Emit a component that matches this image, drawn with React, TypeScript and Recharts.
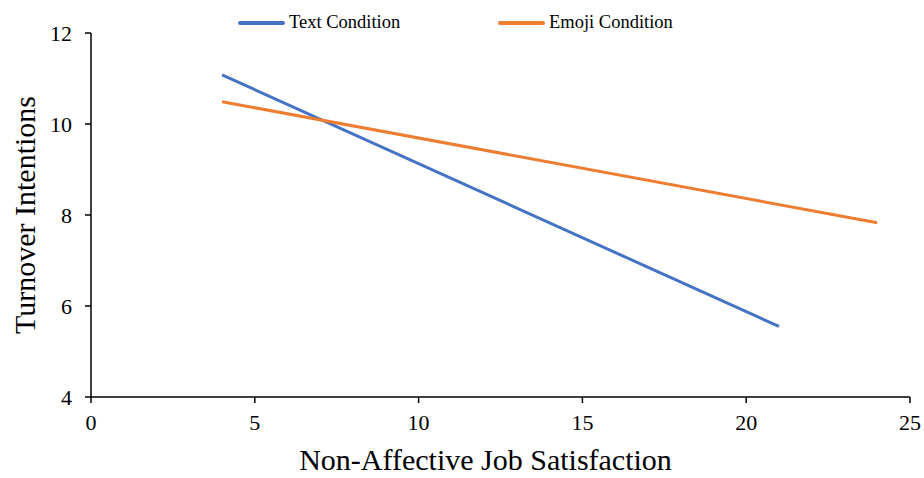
import { LineChart, Line, XAxis, YAxis, Label } from "recharts"

const textCondition = [
  { x: 4, y: 11.08 },
  { x: 21, y: 5.55 },
]
const emojiCondition = [
  { x: 4, y: 10.49 },
  { x: 24, y: 7.83 },
]
const xTicks = [0, 5, 10, 15, 20, 25]
const yTicks = [4, 6, 8, 10, 12]

const FONT = '"Liberation Serif", "Times New Roman", serif'
const BLUE = "#4472C4"
const ORANGE = "#ED7D31"

// legend drawn by hand so the two entries sit where the original has them
function TopLegend() {
  const items = [
    { name: "Text Condition", color: BLUE, left: 238 },
    { name: "Emoji Condition", color: ORANGE, left: 498 },
  ]
  return (
    <div style={{ position: "absolute", left: 0, top: 12, width: 924, height: 24, fontFamily: FONT, fontSize: 18.5, color: "#000" }}>
      {items.map((it) => (
        <div key={it.name} style={{ position: "absolute", left: it.left, top: 0, display: "flex", alignItems: "center" }}>
          <span style={{ display: "inline-block", width: 47, height: 4, borderRadius: 2, background: it.color, marginRight: 4 }} />
          <span>{it.name}</span>
        </div>
      ))}
    </div>
  )
}

export default function App() {
  return (
    <div style={{ position: "absolute", left: 0, top: 0, width: 924, height: 478, background: "#fff" }}>
      <LineChart width={924} height={478} margin={{ top: 33, right: 14, bottom: 0, left: 0 }}>
        <XAxis
          type="number"
          dataKey="x"
          domain={[0, 25]}
          ticks={xTicks}
          allowDataOverflow
          height={81}
          stroke="#000"
          strokeWidth={1.5}
          tickSize={6}
          tickMargin={11}
          tick={{ fill: "#000", fontFamily: FONT, fontSize: 22 }}
        >
          <Label
            value="Non-Affective Job Satisfaction"
            position="insideBottom"
            offset={8}
            dx={-15}
            style={{ fill: "#000", fontFamily: FONT, fontSize: 30 }}
          />
        </XAxis>
        <YAxis
          type="number"
          domain={[4, 12]}
          ticks={yTicks}
          allowDataOverflow
          width={91}
          stroke="#000"
          strokeWidth={1.5}
          tickSize={6}
          tickMargin={13}
          tick={{ fill: "#000", fontFamily: FONT, fontSize: 22 }}
        >
          <Label
            value="Turnover Intentions"
            angle={-90}
            position="insideLeft"
            offset={24}
            style={{ textAnchor: "middle", fill: "#000", fontFamily: FONT, fontSize: 30 }}
          />
        </YAxis>
        <Line
          data={textCondition}
          dataKey="y"
          name="Text Condition"
          stroke={BLUE}
          strokeWidth={3}
          dot={false}
          isAnimationActive={false}
        />
        <Line
          data={emojiCondition}
          dataKey="y"
          name="Emoji Condition"
          stroke={ORANGE}
          strokeWidth={3}
          dot={false}
          isAnimationActive={false}
        />
      </LineChart>
      <TopLegend />
    </div>
  )
}
